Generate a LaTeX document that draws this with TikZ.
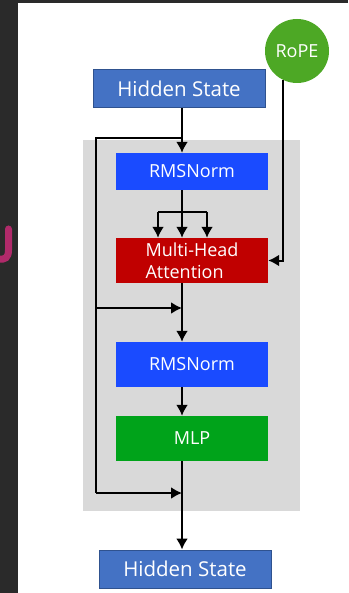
\documentclass[tikz,border=0pt]{standalone}
\usepackage{fontspec}
\setmainfont{Open Sans}
\usetikzlibrary{arrows.meta}

\definecolor{darkbg}{HTML}{2A2A2A}
\definecolor{pinkmark}{HTML}{B02A6A}
\definecolor{panelgray}{HTML}{D9D9D9}
\definecolor{hsblue}{HTML}{4472C4}
\definecolor{hsedge}{HTML}{2F528F}
\definecolor{normblue}{HTML}{1A4BFF}
\definecolor{attnred}{HTML}{C00000}
\definecolor{mlpgreen}{HTML}{00A31A}
\definecolor{ropegreen}{HTML}{4DA825}

\begin{document}
\begin{tikzpicture}[x=1pt,y=-1pt,
	box/.style={rectangle, minimum width=152pt, inner sep=0pt, text=white, font=\fontsize{18}{21.5}\selectfont},
	hsbox/.style={box, fill=hsblue, draw=hsedge, line width=1pt, minimum width=172pt, minimum height=38pt, font=\fontsize{20.5}{24}\selectfont},
	ropecircle/.style={circle, fill=ropegreen, minimum size=64pt, inner sep=0pt, text=white, font=\fontsize{18}{21.5}\selectfont},
	wire/.style={line width=2pt},
	link/.style={wire, -{Latex[length=11pt,width=12pt]}}]

	\useasboundingbox (0,0) rectangle (348,593);
	% backdrop
	\fill[white] (0,0) rectangle (348,593);
	\fill[darkbg] (0,0) rectangle (18,593);
	\fill[darkbg] (0,0) rectangle (348,3);
	\draw[pinkmark, line width=7pt, line cap=round] (8.5,229) -- (8.5,250) .. controls (8.5,258) and (5,260) .. (-2,259);
	% decoder layer
	\fill[panelgray] (83,140) rectangle (300,511);

	% blocks
	\node[hsbox] (hsin) at (179,89) {Hidden State};
	\node[ropecircle] (rope) at (297,51) {RoPE};
	\node[box, fill=normblue, minimum height=37pt] (norma) at (192,171.5) {RMSNorm};
	\node[box, fill=attnred, minimum height=45pt, align=left] (attn) at (192,260.5) {Multi-Head\\Attention};
	\node[box, fill=normblue, minimum height=45pt] (normb) at (192,364.5) {RMSNorm};
	\node[box, fill=mlpgreen, minimum height=45pt] (mlp) at (192,438.5) {MLP};
	\node[hsbox] (hsout) at (185,569) {Hidden State};

	% main path and residuals
	\coordinate (spine) at (182,0);
	\coordinate (skiptop) at (96,138);
	\coordinate (skipa) at (96,308);
	\coordinate (skipb) at (96,493);
	\coordinate (fanl) at (158,212);
	\coordinate (fanr) at (207,212);

	\draw[link] (hsin.south -| spine) -- (norma.north -| spine);
	\draw[wire] (spine |- skiptop) -- (skiptop) -- (skipb);
	\draw[link] (skipa) -- (spine |- skipa);
	\draw[link] (skipb) -- (spine |- skipb);
	% q, k, v
	\draw[link] (norma.south -| spine) -- (attn.north -| spine);
	\draw[wire] (fanl) -- (fanr);
	\draw[link] (fanl) -- (attn.north -| fanl);
	\draw[link] (fanr) -- (attn.north -| fanr);
	\draw[link] (rope.-116) |- (attn.east);
	\draw[link] (attn.south -| spine) -- (normb.north -| spine);
	\draw[link] (normb.south -| spine) -- (mlp.north -| spine);
	\draw[link] (mlp.south -| spine) -- (hsout.north -| spine);

\end{tikzpicture}
\end{document}
